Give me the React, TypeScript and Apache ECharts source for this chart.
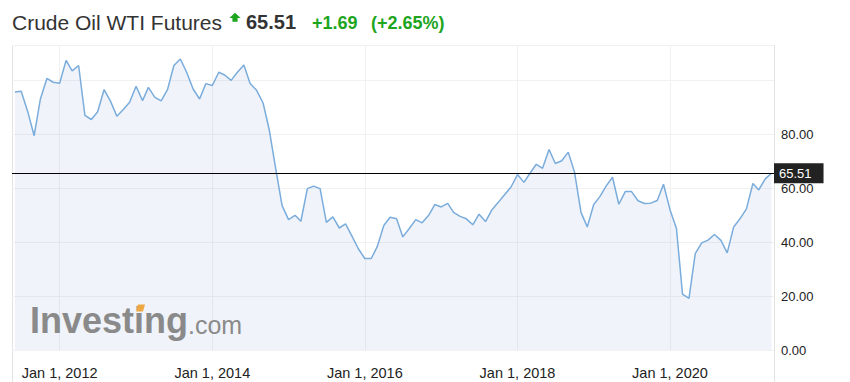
import React, { useEffect, useRef } from 'react';
import * as echarts from 'echarts';

// Quote header
const instrumentName = 'Crude Oil WTI Futures';
const lastPrice = 65.51;
const priceChange = '+1.69';
const percentChange = '(+2.65%)';

// Monthly closes, first point is June 2011
const firstMonth = { year: 2011, month: 6 };
const closes2011 = [95.6, 95.9, 88.4, 79.4, 93.0, 100.6, 99.2];
const closes2012 = [98.8, 107.3, 103.4, 105.4, 86.9, 85.4, 88.3, 96.5, 92.1, 86.6, 89.1, 91.8];
const closes2013 = [97.7, 92.4, 97.3, 93.6, 92.3, 96.6, 105.4, 107.8, 102.7, 96.7, 93.0, 98.7];
const closes2014 = [98.0, 102.9, 101.9, 99.9, 102.9, 105.6, 98.7, 96.2, 91.5, 81.4, 66.9, 53.5];
const closes2015 = [48.3, 49.9, 47.7, 59.8, 60.7, 59.8, 47.3, 49.3, 45.2, 46.7, 42.1, 37.5];
const closes2016 = [33.9, 33.9, 38.4, 46.1, 49.2, 48.6, 41.9, 45.0, 48.3, 47.1, 49.8, 53.9];
const closes2017 = [53.0, 54.3, 51.0, 49.5, 48.6, 46.4, 50.3, 47.6, 52.0, 54.7, 57.6, 60.4];
const closes2018 = [65.0, 62.1, 65.4, 68.8, 67.3, 74.3, 69.1, 70.1, 73.3, 65.9, 51.0, 45.6];
const closes2019 = [53.9, 57.0, 60.7, 64.0, 54.0, 58.7, 58.7, 55.3, 54.3, 54.4, 55.4, 61.4];
const closes2020 = [52.0, 45.0, 20.7, 19.1, 35.7, 39.7, 40.7, 42.8, 40.6, 36.0, 45.6, 48.6];
const closes2021 = [52.3, 61.7, 59.3, 63.4, lastPrice];

// Axis ticks
const priceTicks = [0, 20, 40, 60, 80];
const labelYears = [2012, 2014, 2016, 2018, 2020];

const FONT = '"Liberation Sans", Arial, Helvetica, sans-serif';

export default function App() {
  const ref = useRef<HTMLDivElement>(null);

  useEffect(() => {
    if (!ref.current) return;
    const chart = echarts.init(ref.current, undefined, { renderer: 'svg' });

    const closes = [
      ...closes2011, ...closes2012, ...closes2013, ...closes2014, ...closes2015,
      ...closes2016, ...closes2017, ...closes2018, ...closes2019, ...closes2020, ...closes2021,
    ];
    // x values are UTC timestamps of the first day of each month
    const points = closes.map((v, i) => [
      Date.UTC(firstMonth.year, firstMonth.month - 1 + i, 1),
      v,
    ]);
    const yearStarts = labelYears.map((y) => Date.UTC(y, 0, 1));

    const frameColor = '#e3e3e3';
    const gridColor = '#f1f1f1';

    chart.setOption({
      animation: false,
      grid: { left: 12, right: 76, top: 45, bottom: 32, containLabel: false },
      xAxis: {
        type: 'value',
        min: Date.UTC(2011, 4, 18),
        max: Date.UTC(2021, 4, 13),
        axisLine: { show: false },
        axisTick: { show: false, customValues: yearStarts },
        axisLabel: {
          customValues: yearStarts,
          margin: 15,
          fontSize: 14.5,
          fontFamily: FONT,
          color: '#222',
          formatter: (v: number) => 'Jan 1, ' + new Date(v).getUTCFullYear(),
        },
        splitLine: { show: true, lineStyle: { color: gridColor, width: 1 } },
      },
      yAxis: {
        type: 'value',
        position: 'right',
        min: 0,
        max: 113,
        interval: 20,
        axisLine: { show: false },
        axisTick: { show: false },
        axisLabel: {
          margin: 7,
          fontSize: 13,
          fontFamily: FONT,
          color: '#222',
          formatter: (v: number) => (priceTicks.includes(v) ? v.toFixed(2) : ''),
        },
        splitLine: { show: true, lineStyle: { color: gridColor, width: 1 } },
      },
      series: [
        {
          type: 'line',
          data: points,
          symbol: 'none',
          lineStyle: { color: '#7aacdc', width: 1.5 },
          areaStyle: { color: 'rgba(70,125,190,0.12)' },
          markLine: {
            silent: true,
            symbol: 'none',
            lineStyle: { color: '#000', width: 1, type: 'solid' },
            label: {
              position: 'end',
              distance: 0,
              formatter: (p: any) => Number(p.value).toFixed(2),
              color: '#fff',
              backgroundColor: '#222',
              fontSize: 13,
              fontFamily: FONT,
              padding: [4, 12, 3, 5],
            },
            data: [{ yAxis: lastPrice }],
          },
        },
      ],
      graphic: [
        // chart frame
        { type: 'line', shape: { x1: 12.5, y1: 45.5, x2: 774.5, y2: 45.5 }, style: { stroke: frameColor, lineWidth: 1 } },
        { type: 'line', shape: { x1: 12.5, y1: 45.5, x2: 12.5, y2: 382 }, style: { stroke: frameColor, lineWidth: 1 } },
        { type: 'line', shape: { x1: 774.5, y1: 45.5, x2: 774.5, y2: 382 }, style: { stroke: frameColor, lineWidth: 1 } },
        // header
        {
          type: 'text', x: 12, y: 22,
          style: { text: instrumentName, fontSize: 21, fontFamily: FONT, fill: '#333', verticalAlign: 'middle' },
        },
        {
          type: 'polygon',
          shape: { points: [[235, 12.7], [240.6, 18], [237.6, 18], [237.6, 21.7], [232.4, 21.7], [232.4, 18], [229.4, 18]] },
          style: { fill: '#1ea51e' },
        },
        {
          type: 'text', x: 246, y: 22.4,
          style: { text: lastPrice.toFixed(2), fontSize: 20, fontWeight: 'bold', fontFamily: FONT, fill: '#333', verticalAlign: 'middle' },
        },
        {
          type: 'text', x: 312, y: 23,
          style: { text: priceChange, fontSize: 18, fontWeight: 'bold', fontFamily: FONT, fill: '#1ea51e', verticalAlign: 'middle' },
        },
        {
          type: 'text', x: 371, y: 23,
          style: { text: percentChange, fontSize: 18, fontWeight: 'bold', fontFamily: FONT, fill: '#1ea51e', verticalAlign: 'middle' },
        },
        // watermark logo
        {
          type: 'text', x: 30, y: 320.8, z: 50,
          style: { text: 'Investing', fontSize: 36, fontWeight: 'bold', fontFamily: FONT, fill: '#8a8a8a', verticalAlign: 'middle' },
        },
        {
          type: 'polygon', z: 51,
          shape: { points: [[138, 304.5], [145, 304.5], [143, 311.5], [136, 311.5]] },
          style: { fill: '#eda743' },
        },
        {
          type: 'text', x: 188, y: 324.6, z: 50,
          style: { text: '.com', fontSize: 25, fontFamily: FONT, fill: '#8a8a8a', verticalAlign: 'middle' },
        },
      ],
    });

    return () => chart.dispose();
  }, []);

  return (
    <div
      ref={ref}
      style={{ position: 'fixed', left: 0, top: 0, width: 850, height: 382, background: '#fff' }}
    />
  );
}
